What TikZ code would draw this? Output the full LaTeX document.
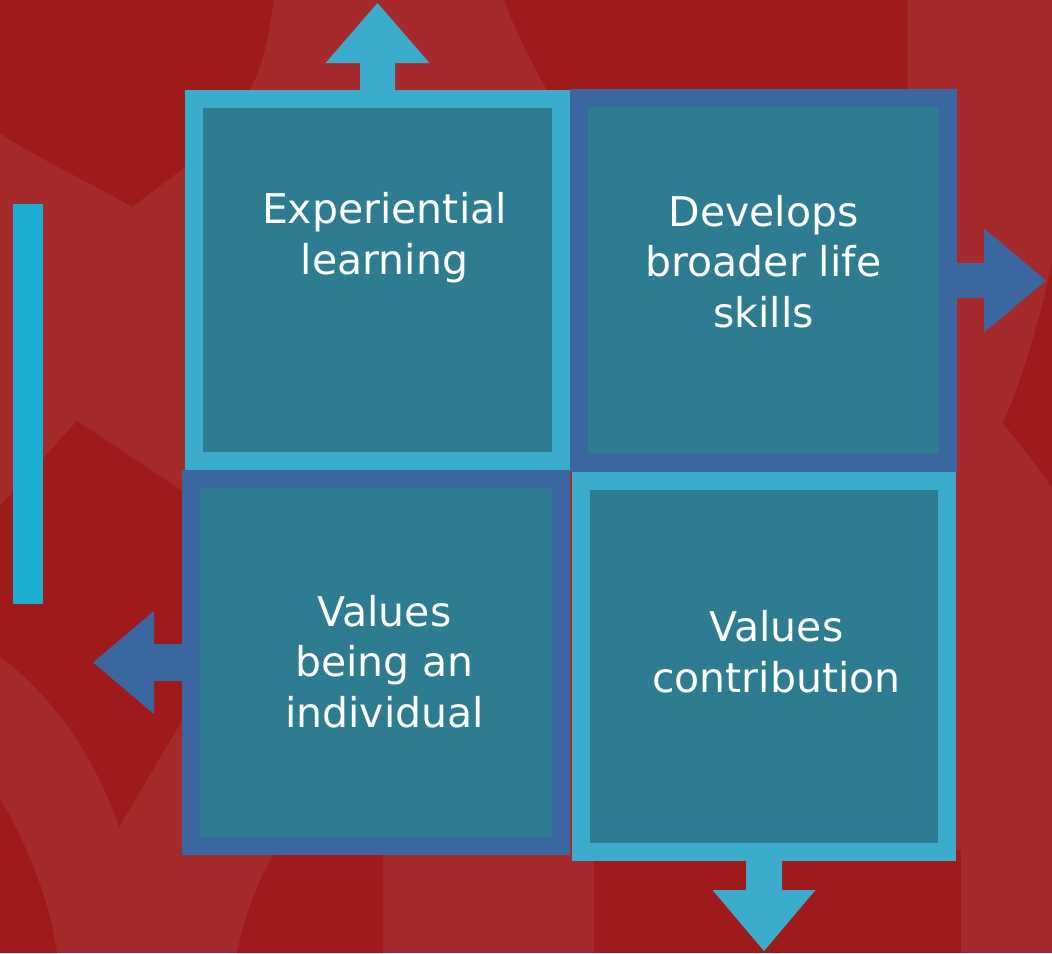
\documentclass[tikz,border=0pt]{standalone}
\usepackage{fontspec}
\setmainfont{DejaVu Sans}
\usetikzlibrary{calc}

\definecolor{bgdark}{HTML}{9E1A1B}
\definecolor{bglight}{HTML}{A52A2C}
\definecolor{edgelight}{HTML}{3BACCC}
\definecolor{edgedark}{HTML}{3A679F}
\definecolor{tealfill}{HTML}{2D7C91}
\definecolor{barblue}{HTML}{1AAED1}

\tikzset{
  quad/.style={rectangle, inner sep=0pt, outer sep=0pt, line width=18pt, fill=tealfill},
  quadlight/.style={quad, draw=edgelight},
  quaddark/.style={quad, draw=edgedark},
  label text/.style={text=white, align=center, inner sep=0pt,
    font=\fontsize{41}{50.5}\selectfont, anchor=base},
}

\begin{document}
\begin{tikzpicture}[x=1pt,y=-1pt]
\useasboundingbox (0,0) rectangle (1052,953);

% backdrop
\fill[bglight] (0,0) rectangle (1052,953);
\begin{scope}[bgdark]
  \fill (0,0) -- (274,0) .. controls (268,40) and (262,70) .. (249,90)
        -- (185,167) -- (132,207) .. controls (90,182) and (40,160) .. (0,133) -- cycle;
  \fill (504,0) .. controls (515,30) and (530,60) .. (547,90)
        -- (547,130) -- (907,130) -- (907,0) -- cycle;
  \fill (1052,262) .. controls (1040,320) and (1022,380) .. (1003,423)
        .. controls (1020,445) and (1037,465) .. (1052,488) -- cycle;
  \fill (77,421) -- (184,492) -- (220,600) -- (184,717) -- (119,827)
        .. controls (100,770) and (60,700) .. (0,657) -- (0,506) -- cycle;
  \fill (0,799) .. controls (25,840) and (50,900) .. (57,953) -- (0,953) -- cycle;
  \fill (237,953) .. controls (243,920) and (258,880) .. (276,850)
        -- (383,850) -- (383,953) -- cycle;
  \fill (594,850) -- (961,850) -- (961,953) -- (594,953) -- cycle;
\end{scope}

% side bar
\fill[barblue] (13,204) rectangle (43,604);

% quadrants
\node[quadlight, minimum width=367pt, minimum height=362pt] (tl) at (377.5,280) {};
\node[quaddark,  minimum width=369pt, minimum height=365pt] (tr) at (763.5,280.5) {};
\node[quaddark,  minimum width=370pt, minimum height=367pt] (bl) at (376,662.5) {};
\node[quadlight, minimum width=366pt, minimum height=371pt] (br) at (764,666.5) {};

% block arrows leaving the quadrants
\begin{scope}[shift={(tl.north)}]
  \fill[edgelight] (-17.5,0) -- (-17.5,-36) -- (-52,-36) -- (0,-96)
        -- (52,-36) -- (17.5,-36) -- (17.5,0) -- cycle;
\end{scope}
\begin{scope}[shift={(tr.east)}]
  \fill[edgedark] (0,-17.5) -- (36,-17.5) -- (36,-52) -- (98,0)
        -- (36,52) -- (36,17.5) -- (0,17.5) -- cycle;
\end{scope}
\begin{scope}[shift={(bl.west)}]
  \fill[edgedark] (0,-18.5) -- (-37,-18.5) -- (-37,-51.5) -- (-98,0)
        -- (-37,51.5) -- (-37,18.5) -- (0,18.5) -- cycle;
\end{scope}
\begin{scope}[shift={(br.south)}]
  \fill[edgelight] (-18,0) -- (-18,38) -- (-51.5,38) -- (0,99)
        -- (51.5,38) -- (18,38) -- (18,0) -- cycle;
\end{scope}

% captions (anchored at the baseline of their last line)
\node[label text] (tltext) at (384.5,274) {Experiential\\learning};
\node[label text] (trtext) at (763.5,327) {Develops\\broader life\\skills};
\node[label text] (bltext) at (384.5,727) {Values\\being an\\individual};
\node[label text] (brtext) at (776.5,692) {Values\\contribution};
\end{tikzpicture}
\end{document}
